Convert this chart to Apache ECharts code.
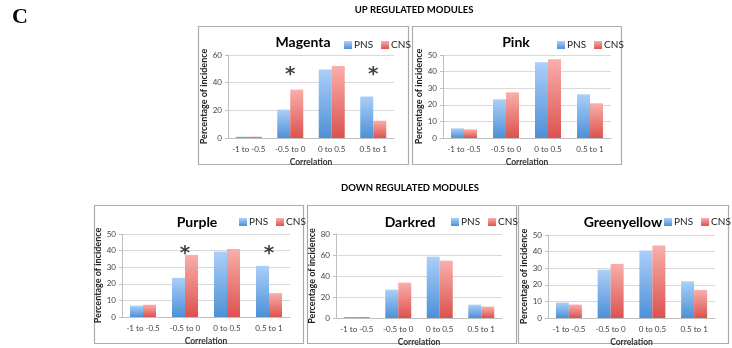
<!DOCTYPE html>
<html>
<head>
<meta charset="utf-8">
<script src="https://cdn.jsdelivr.net/npm/echarts@6/dist/echarts.min.js"></script>
<style>
html, body { margin: 0; padding: 0; background: #fff; }
#main { width: 732px; height: 348px; }
</style>
</head>
<body>
<div id="main"></div>
<script>
// data
var categories = ['-1 to -0.5', '-0.5 to 0', '0 to 0.5', '0.5 to 1'];
var magentaPNS = [1, 20.5, 49.5, 30];
var magentaCNS = [1, 35, 52, 12.5];
var pinkPNS = [5.8, 23.3, 45.6, 26.3];
var pinkCNS = [5.2, 27.5, 47.4, 20.9];
var purplePNS = [6.8, 23.6, 39.4, 30.8];
var purpleCNS = [7.4, 37.4, 41, 14.4];
var darkredPNS = [1, 27, 58.4, 12.7];
var darkredCNS = [1, 33.7, 54.6, 10.8];
var greenyellowPNS = [9.3, 29.1, 40.7, 22.1];
var greenyellowCNS = [8.1, 32.6, 43.6, 16.9];
var magentaStars = ['-0.5 to 0', '0.5 to 1'];
var purpleStars = ['-0.5 to 0', '0.5 to 1'];
var yMaxes = [60, 50, 50, 80, 50];
var ySteps = [20, 10, 10, 20, 10];

var myChart = echarts.init(document.getElementById('main'));

// panel boxes + grids (pixel layout)
var panels = [
	{name: 'Magenta', box: [198, 26, 210, 138], grid: [228, 55, 166, 83], pns: magentaPNS, cns: magentaCNS, stars: magentaStars, starY: 49, titleX: 303, titleY: 42, legendX: 344, legendY: 40},
	{name: 'Pink', box: [412, 26, 209, 138], grid: [443, 55, 168, 83], pns: pinkPNS, cns: pinkCNS, stars: [], starY: 0, titleX: 516, titleY: 42, legendX: 557, legendY: 40},
	{name: 'Purple', box: [94, 205, 209, 138], grid: [122, 234, 168, 83], pns: purplePNS, cns: purpleCNS, stars: purpleStars, starY: 41, titleX: 197, titleY: 222, legendX: 239, legendY: 217},
	{name: 'Darkred', box: [307, 205, 209, 138], grid: [336, 234, 166, 84], pns: darkredPNS, cns: darkredCNS, stars: [], starY: 0, titleX: 410, titleY: 222, legendX: 451, legendY: 217},
	{name: 'Greenyellow', box: [518, 205, 210, 138], grid: [548, 235, 167, 86], pns: greenyellowPNS, cns: greenyellowCNS, stars: [], starY: 0, titleX: 623, titleY: 222, legendX: 664, legendY: 217}
];

var pnsColor = new echarts.graphic.LinearGradient(0, 0, 0, 1, [
	{offset: 0, color: '#abcff9'},
	{offset: 1, color: '#4d90d7'}
]);
var cnsColor = new echarts.graphic.LinearGradient(0, 0, 0, 1, [
	{offset: 0, color: '#f9afac'},
	{offset: 1, color: '#dc524d'}
]);

var grids = [], xAxes = [], yAxes = [], series = [], legends = [], graphics = [];

graphics.push({type: 'text', style: {text: 'C', x: 12, y: 17, font: 'bold 22px "Liberation Serif"', fill: '#000', textVerticalAlign: 'middle'}});
graphics.push({type: 'text', style: {text: 'UP REGULATED MODULES', x: 414, y: 10, font: 'bold 9.5px Lato', fill: '#000', textAlign: 'center', textVerticalAlign: 'middle'}});
graphics.push({type: 'text', style: {text: 'DOWN REGULATED MODULES', x: 410, y: 188, font: 'bold 9.5px Lato', fill: '#000', textAlign: 'center', textVerticalAlign: 'middle'}});

panels.forEach(function(p, i){
	graphics.push({type: 'rect', shape: {x: p.box[0] + 0.5, y: p.box[1] + 0.5, width: p.box[2], height: p.box[3]}, style: {fill: 'none', stroke: '#ababab', lineWidth: 1.2}});
	graphics.push({type: 'text', z: 10, style: {text: p.name, x: p.titleX, y: p.titleY, font: 'bold 14px Lato', fill: '#000', textAlign: 'center', textVerticalAlign: 'middle'}});

	grids.push({left: p.grid[0], top: p.grid[1], width: p.grid[2], height: p.grid[3], containLabel: false});
	xAxes.push({
		type: 'category',
		gridIndex: i,
		data: categories,
		name: 'Correlation',
		nameLocation: 'middle',
		nameGap: 20,
		nameTextStyle: {fontFamily: 'Lato', fontSize: 8.5, fontWeight: 'bold', color: '#333'},
		axisLine: {lineStyle: {color: '#bfbfbf'}},
		axisTick: {show: false},
		axisLabel: {interval: 0, hideOverlap: false, fontFamily: 'Lato', fontSize: 8, color: '#444', margin: 7}
	});
	yAxes.push({
		type: 'value',
		gridIndex: i,
		min: 0,
		max: yMaxes[i],
		interval: ySteps[i],
		name: 'Percentage of incidence',
		nameLocation: 'middle',
		nameGap: 18,
		nameTextStyle: {fontFamily: 'Lato', fontSize: 9, fontWeight: 'bold', color: '#222'},
		axisLine: {show: true, lineStyle: {color: '#bfbfbf'}},
		axisTick: {show: true, length: 3, lineStyle: {color: '#bfbfbf'}},
		axisLabel: {fontFamily: 'Lato', fontSize: 8, color: '#444', margin: 6},
		splitLine: {lineStyle: {color: '#d9d9d9'}}
	});
	series.push({
		name: 'PNS', type: 'bar', xAxisIndex: i, yAxisIndex: i,
		barWidth: 13, barGap: '0%',
		itemStyle: {color: pnsColor},
		data: p.pns
	});
	series.push({
		name: 'CNS', type: 'bar', xAxisIndex: i, yAxisIndex: i,
		barWidth: 13, barGap: '0%',
		itemStyle: {color: cnsColor},
		data: p.cns
	});
	if (p.stars.length) {
		series.push({
			name: 'sig', type: 'scatter', xAxisIndex: i, yAxisIndex: i,
			symbolSize: 1, itemStyle: {color: 'transparent'},
			label: {show: true, position: 'inside', formatter: '*', fontFamily: 'DejaVu Sans', fontSize: 20, fontWeight: 'bold', color: '#111', offset: [0, 5]},
			data: p.stars.map(function(c){ return [c, p.starY]; })
		});
	}
	legends.push({
		data: ['PNS', 'CNS'],
		left: p.legendX,
		top: p.legendY,
		itemWidth: 8,
		itemHeight: 8,
		itemGap: 8,
		icon: 'rect',
		textStyle: {fontFamily: 'Lato', fontSize: 10, color: '#222', padding: [0, 0, 0, -3]},
		padding: 0
	});
});

var option = {
	animation: false,
	color: ['#4d90d7', '#dc524d'],
	grid: grids,
	xAxis: xAxes,
	yAxis: yAxes,
	legend: legends,
	series: series,
	graphic: graphics
};
myChart.setOption(option);
</script>
</body>
</html>
